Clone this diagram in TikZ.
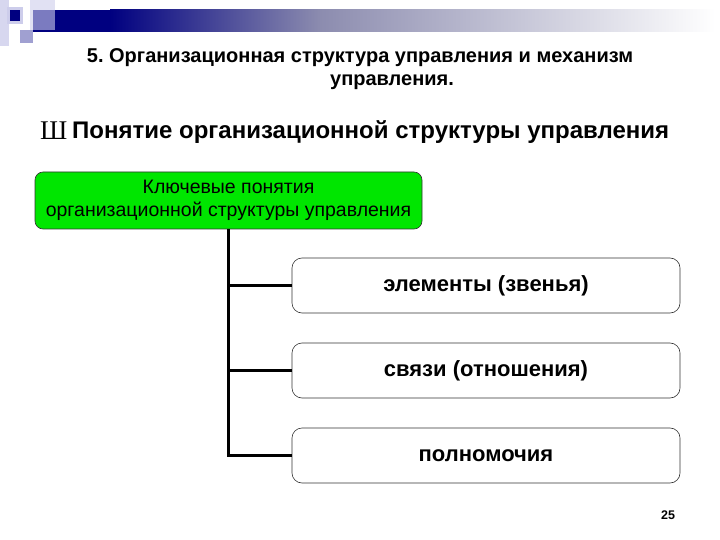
\documentclass[tikz,border=0pt]{standalone}
\usepackage{fontspec}
\setmainfont{Liberation Sans}
\newfontfamily\serifsym{Liberation Serif}
\frenchspacing
\definecolor{navy}{RGB}{0,0,128}
\definecolor{barmid}{RGB}{140,140,175}
\definecolor{pale}{RGB}{205,205,235}
\definecolor{midlav}{RGB}{150,150,205}
\definecolor{boxgreen}{RGB}{0,230,0}
\tikzset{
  item/.style={draw=black!80, line width=0.6pt, rounded corners=10pt, minimum width=388pt, minimum height=55pt, font=\bfseries\fontsize{22}{25}\selectfont},
  keybox/.style={draw=black!80, line width=0.6pt, fill=boxgreen, rounded corners=8pt, minimum width=387pt, minimum height=57pt, align=center, inner sep=0pt, font=\fontsize{19.5}{23}\selectfont},
  conn/.style={line width=2.4pt, black}
}
\begin{document}
\begin{tikzpicture}[x=1pt,y=-1pt]
\useasboundingbox (0,0) rectangle (720,540);
\fill[white] (0,0) rectangle (720,540);
% decoration
\fill[navy] (33,10) rectangle (110,32);
\shade[left color=navy, right color=barmid] (110,10) rectangle (320,32);
\shade[left color=barmid, right color=white] (320,10) rectangle (715,32);
\fill[pale, opacity=0.8] (0,0) rectangle (9,46);
\fill[pale, opacity=0.6] (30,0) rectangle (55,30);
\fill[midlav, opacity=0.9] (20,30) rectangle (33,43);
\fill[pale] (7,7) rectangle (23,24);
\fill[navy] (10,10) rectangle (20,21);
% title
\node[font=\bfseries\fontsize{20}{23}\selectfont] (t1) at (360,58) {5. Организационная структура управления и механизм};
\node[font=\bfseries\fontsize{20}{23}\selectfont] (t2) at (392,82) {управления.};
\node[font=\serifsym\fontsize{27}{29}\selectfont, anchor=west, inner sep=0pt] (bul) at (40,131) {Ш};
\node[font=\bfseries\fontsize{24}{27}\selectfont, anchor=west, inner sep=0pt] (head) at (72,132) {Понятие организационной структуры управления};
% boxes
\node[keybox] (key) at (228.5,200.5) {Ключевые понятия\\организационной структуры управления};
\node[item] (b1) at (486,285.5) {элементы (звенья)};
\node[item] (b2) at (486,370.5) {связи (отношения)};
\node[item] (b3) at (486,455.5) {полномочия};
% connectors
\coordinate (c3) at (key.south |- b3.west);
\draw[conn] (key.south) -- (c3) -- (b3.west);
\draw[conn] (key.south |- b1.west) -- (b1.west);
\draw[conn] (key.south |- b2.west) -- (b2.west);
% page number
\node[font=\bfseries\fontsize{12.5}{14}\selectfont] (pg) at (668,515) {25};
\end{tikzpicture}
\end{document}
